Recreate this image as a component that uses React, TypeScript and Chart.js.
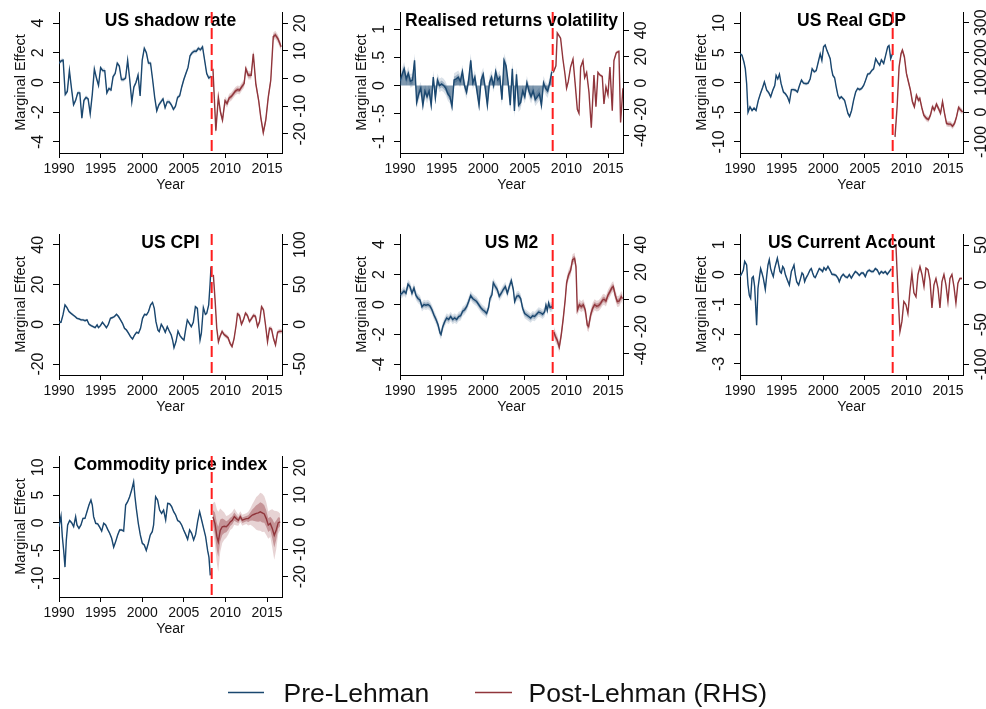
import React, { useEffect, useRef } from "react";
import { Chart, registerables } from "chart.js";

Chart.register(...registerables);

type Pt = [number, number];

const FONT = '"Liberation Sans", Arial, Helvetica, sans-serif';
const BLUE = "rgb(26,71,111)";
const RED = "rgb(144,53,59)";
const blueA = (a: number) => `rgba(26,71,111,${a})`;
const redA = (a: number) => `rgba(144,53,59,${a})`;

const LEHMAN_YEAR = 2008.35;
const X_RANGE: [number, number] = [1990, 2016.8];
const YEAR_TICKS = [1990, 1995, 2000, 2005, 2010, 2015];
const LEGEND_LABELS = ["Pre-Lehman", "Post-Lehman (RHS)"];
const AXIS_TITLE_Y = "Marginal Effect";
const AXIS_TITLE_X = "Year";

// ---------- US shadow rate ----------
const shadowPre: Pt[] = [[1990,1.3],[1990.25,1.45],[1990.5,1.5],[1990.75,-0.8],[1991,-0.6],[1991.25,0.8],[1991.5,-0.4],[1991.75,-1.5],[1992,-1.2],[1992.25,-0.7],[1992.5,-0.7],[1992.75,-2.4],[1993,-1.2],[1993.25,-1.0],[1993.5,-1.1],[1993.75,-2.1],[1994,-0.8],[1994.25,0.9],[1994.5,0.3],[1994.75,-0.2],[1995,1.0],[1995.25,0.8],[1995.5,0.8],[1995.75,-0.7],[1996,-0.4],[1996.25,-0.5],[1996.5,0.4],[1996.75,0.6],[1997,1.3],[1997.25,1.1],[1997.5,0.2],[1997.75,0.2],[1998,0.3],[1998.25,1.5],[1998.5,0.2],[1998.75,-1.3],[1999,-0.3],[1999.25,0.0],[1999.5,0.5],[1999.75,-0.9],[2000,1.5],[2000.25,2.3],[2000.5,2.0],[2000.75,1.3],[2001,1.3],[2001.25,0.2],[2001.5,-1.0],[2001.75,-1.9],[2002,-1.5],[2002.25,-1.3],[2002.5,-1.1],[2002.75,-1.7],[2003,-1.3],[2003.25,-1.3],[2003.5,-1.5],[2003.75,-1.8],[2004,-1.6],[2004.25,-1.0],[2004.5,-0.9],[2004.75,-0.3],[2005,0.2],[2005.25,0.6],[2005.5,1.0],[2005.75,1.8],[2006,2.0],[2006.25,2.1],[2006.5,2.1],[2006.75,2.3],[2007,2.2],[2007.25,2.4],[2007.5,1.5],[2007.75,0.6],[2008,0.3],[2008.25,0.4]];
const shadowPost: Pt[] = [[2008.5,3.6],[2008.85,-18.8],[2009.15,-6.7],[2009.4,-12],[2009.65,-15],[2009.95,-8],[2010.2,-9],[2010.45,-7],[2010.7,-6.5],[2010.95,-5.5],[2011.2,-4.5],[2011.45,-4],[2011.7,-4.2],[2011.95,-3],[2012.25,-1.8],[2012.45,3.6],[2012.75,1.2],[2013.1,1.2],[2013.35,9],[2013.65,-1.8],[2014,-8],[2014.25,-14],[2014.55,-19.5],[2014.85,-15],[2015.15,-6.7],[2015.45,-0.6],[2015.75,15.2],[2016,15.8],[2016.3,14.5],[2016.7,11.5]];
const shadowLeftTicks = [-4, -2, 0, 2, 4];
const shadowRightTicks = [-20, -10, 0, 10, 20];

// ---------- Realised returns volatility ----------
const volPre: Pt[] = [[1990,0.08],[1990.25,0.2],[1990.5,0.3],[1990.75,0.12],[1991,0.22],[1991.25,0.08],[1991.5,0.1],[1991.75,0.45],[1992,-0.3],[1992.25,-0.15],[1992.5,-0.05],[1992.75,-0.35],[1993,-0.1],[1993.25,-0.2],[1993.5,-0.1],[1993.75,-0.35],[1994,0.15],[1994.25,-0.22],[1994.5,0.1],[1994.75,0],[1995,0.03],[1995.25,0],[1995.5,-0.05],[1995.75,-0.15],[1996,-0.2],[1996.25,-0.37],[1996.5,0.1],[1996.75,0.12],[1997,0.15],[1997.25,0.08],[1997.5,0.25],[1997.75,0],[1998,-0.12],[1998.25,0.1],[1998.5,0.45],[1998.75,0.05],[1999,0.15],[1999.25,-0.1],[1999.5,-0.35],[1999.75,0.1],[2000,0.2],[2000.25,-0.05],[2000.5,-0.35],[2000.75,0.05],[2001,0.15],[2001.25,0],[2001.5,0.25],[2001.75,0.1],[2002,0.15],[2002.25,-0.25],[2002.5,0.45],[2002.75,0.35],[2003,0.05],[2003.25,-0.35],[2003.5,0.3],[2003.75,-0.45],[2004,0.2],[2004.25,-0.35],[2004.5,-0.3],[2004.75,-0.1],[2005,-0.2],[2005.25,0.05],[2005.5,-0.1],[2005.75,-0.2],[2006,-0.1],[2006.25,-0.25],[2006.5,-0.2],[2006.75,-0.15],[2007,-0.35],[2007.25,0.05],[2007.5,-0.05],[2007.75,-0.1],[2008,0.05],[2008.25,0.25]];
const volPost: Pt[] = [[2008.42,8],[2008.74,13],[2008.9,38],[2009.3,34],[2009.58,18],[2009.82,7],[2010.02,-4],[2010.22,1],[2010.5,12],[2010.79,18],[2011.07,-2],[2011.31,-20],[2011.51,-23],[2011.71,12],[2011.99,17],[2012.19,4],[2012.43,8],[2012.71,-7],[2012.99,-34],[2013.31,6],[2013.55,-18],[2013.79,8],[2014.03,6],[2014.31,5],[2014.51,-16],[2014.75,-3],[2014.99,-9],[2015.23,12],[2015.51,-21],[2015.71,17],[2015.99,23],[2016.31,24],[2016.51,-30],[2016.79,-4]];
const volLeftTicks = [-1, -0.5, 0, 0.5, 1];
const volRightTicks = [-40, -20, 0, 20, 40];

// ---------- US Real GDP ----------
const gdpPre: Pt[] = [[1990,4.8],[1990.24,4.6],[1990.48,3.4],[1990.64,2.3],[1990.8,-0.2],[1990.96,-5.0],[1991.2,-4.1],[1991.45,-4.7],[1991.69,-4.3],[1991.93,-4.7],[1992.2,-3.0],[1992.45,-1.9],[1992.73,-0.8],[1992.93,0.1],[1993.21,-1.3],[1993.45,-1.7],[1993.69,-2.4],[1993.94,-1.3],[1994.18,-0.5],[1994.34,1.2],[1994.54,0.6],[1994.74,1.4],[1994.94,-0.2],[1995.22,-1.6],[1995.46,-1.9],[1995.7,-2.4],[1995.94,-3.3],[1996.18,-1.2],[1996.43,-1.2],[1996.67,-1.3],[1996.91,-1.6],[1997.15,-0.5],[1997.39,0.4],[1997.63,-0.1],[1997.95,-0.2],[1998.19,-0.1],[1998.43,0.6],[1998.67,2.3],[1998.92,1.8],[1999.16,2.0],[1999.4,3.4],[1999.64,4.8],[1999.84,3.7],[2000.04,6.0],[2000.24,6.3],[2000.44,5.4],[2000.68,4.6],[2000.84,4.0],[2001.0,2.3],[2001.16,1.2],[2001.37,0.8],[2001.57,-0.8],[2001.77,-2.2],[2001.97,-2.7],[2002.17,-2.4],[2002.37,-2.7],[2002.57,-3.0],[2002.77,-4.1],[2002.97,-5.2],[2003.17,-5.7],[2003.41,-4.7],[2003.65,-3.0],[2003.9,-1.6],[2004.14,-1.0],[2004.38,-1.2],[2004.62,-1.0],[2004.86,-0.5],[2005.1,0.4],[2005.34,1.4],[2005.58,1.5],[2005.82,2.0],[2006.06,2.3],[2006.31,4.0],[2006.55,3.4],[2006.79,2.9],[2006.99,3.8],[2007.27,3.2],[2007.51,4.6],[2007.75,6.0],[2007.91,6.2],[2008.11,4.0],[2008.31,4.8]];
const gdpPost: Pt[] = [[2008.63,-83],[2008.88,18],[2009.12,152],[2009.36,197],[2009.52,208],[2009.76,185],[2010.0,130],[2010.24,102],[2010.48,74],[2010.72,35],[2010.96,18],[2011.2,57],[2011.45,40],[2011.61,46],[2011.85,15],[2012.09,-10],[2012.41,-21],[2012.65,-25],[2012.89,-10],[2013.13,18],[2013.37,7],[2013.61,27],[2013.86,12],[2014.1,-4],[2014.34,35],[2014.58,-4],[2014.82,-38],[2015.06,-40],[2015.3,-40],[2015.54,-47],[2015.78,-38],[2016.02,-16],[2016.27,16],[2016.51,7],[2016.75,1]];
const gdpLeftTicks = [-10, -5, 0, 5, 10];
const gdpRightTicks = [-100, 0, 100, 200, 300];

// ---------- US CPI ----------
const cpiPre: Pt[] = [[1990,1.0],[1990.24,1.0],[1990.48,4.7],[1990.72,9.7],[1990.96,8.4],[1991.2,6.4],[1991.45,5.5],[1991.69,4.7],[1991.93,3.9],[1992.17,3.0],[1992.41,2.7],[1992.65,2.2],[1992.89,2.2],[1993.13,1.8],[1993.37,2.2],[1993.61,0],[1993.86,-0.7],[1994.1,-1.2],[1994.34,-1.7],[1994.58,-0.3],[1994.74,-1.7],[1994.98,-0.7],[1995.22,1.0],[1995.46,-0.3],[1995.7,-1.7],[1995.94,0],[1996.18,3.0],[1996.43,3.4],[1996.67,3.9],[1996.91,5.0],[1997.15,3.9],[1997.39,2.2],[1997.63,0.5],[1997.87,-2.0],[1998.11,-2.9],[1998.35,-4.5],[1998.59,-6.2],[1998.84,-7.4],[1999.08,-5.4],[1999.32,-4.0],[1999.56,-4.4],[1999.8,-2.0],[2000.04,3.0],[2000.28,5.0],[2000.52,4.7],[2000.76,6.4],[2001.0,9.7],[2001.24,11],[2001.45,8],[2001.65,1.3],[2001.89,-2.9],[2002.05,-3.7],[2002.29,0],[2002.53,-1.7],[2002.77,-4],[2003.01,-1.2],[2003.25,-3.4],[2003.49,-5.4],[2003.65,-7.9],[2003.82,-11.8],[2004.06,-8.7],[2004.3,-3.4],[2004.54,-5.7],[2004.78,-7.0],[2005.02,-7.9],[2005.18,-3.7],[2005.42,2.2],[2005.66,0.5],[2005.9,-1.2],[2006.14,1.0],[2006.39,8.9],[2006.63,8.0],[2006.79,-0.3],[2006.95,-7.9],[2007.11,-4.5],[2007.35,8.4],[2007.59,5.0],[2007.75,5.5],[2007.99,9.7],[2008.15,19.8],[2008.27,29]];
const cpiPost: Pt[] = [[2008.55,62],[2008.76,30],[2008.96,-5],[2009.16,-22],[2009.36,-15],[2009.6,-9],[2009.84,-13],[2010.08,-15],[2010.32,-17],[2010.56,-24],[2010.8,-28],[2011.04,-18],[2011.29,-1],[2011.45,13],[2011.69,11],[2011.93,0],[2012.17,5.5],[2012.41,14],[2012.65,11],[2012.89,3.4],[2013.13,7],[2013.37,11],[2013.61,10],[2013.86,-3],[2014.1,3],[2014.34,22],[2014.58,18],[2014.82,-1],[2015.06,-22],[2015.3,-5],[2015.54,-6],[2015.78,-18],[2016.02,-26],[2016.27,-10],[2016.51,-9],[2016.79,-9]];
const cpiLeftTicks = [-20, 0, 20, 40];
const cpiRightTicks = [-50, 0, 50, 100];

// ---------- US M2 ----------
const m2Pre: Pt[] = [[1990,0.65],[1990.24,0.75],[1990.48,0.9],[1990.72,0.75],[1990.96,1.35],[1991.2,1.2],[1991.44,0.75],[1991.68,1.1],[1991.92,0.6],[1992.16,0.4],[1992.4,0.3],[1992.64,-0.15],[1992.88,0],[1993.12,-0.05],[1993.36,0],[1993.6,-0.1],[1993.84,-0.35],[1994.08,-0.7],[1994.33,-1.0],[1994.57,-1.35],[1994.81,-1.9],[1994.93,-2.0],[1995.13,-1.5],[1995.37,-1.15],[1995.61,-0.9],[1995.85,-1.0],[1996.09,-0.8],[1996.33,-1.0],[1996.57,-0.9],[1996.81,-1.0],[1997.05,-0.8],[1997.29,-0.75],[1997.53,-0.45],[1997.77,-0.35],[1998.01,-0.15],[1998.25,0.2],[1998.49,0.6],[1998.73,0.4],[1998.97,0.3],[1999.21,0.2],[1999.45,0],[1999.69,-0.2],[1999.93,-0.35],[2000.17,-0.45],[2000.41,-0.6],[2000.65,-0.2],[2000.81,0.4],[2001.05,0.65],[2001.21,1.45],[2001.45,1.2],[2001.69,1.0],[2001.93,0.55],[2002.17,0.75],[2002.41,1.0],[2002.66,1.2],[2002.9,0.75],[2003.14,1.2],[2003.38,1.6],[2003.62,1.0],[2003.78,0.2],[2004.02,0.55],[2004.26,0.6],[2004.5,0.4],[2004.74,-0.25],[2004.98,-0.6],[2005.22,-0.7],[2005.46,-0.8],[2005.7,-0.9],[2005.94,-0.75],[2006.18,-0.8],[2006.42,-0.65],[2006.66,-0.5],[2006.9,-0.55],[2007.14,-0.65],[2007.38,-0.5],[2007.54,-0.05],[2007.7,-0.4],[2007.86,0.1],[2008.02,-0.2],[2008.22,-0.15],[2008.34,-0.2]];
const m2Post: Pt[] = [[2008.5,-24],[2008.66,-27],[2008.9,-30],[2009.14,-35],[2009.38,-26],[2009.62,-14],[2009.86,0],[2010.02,12],[2010.26,18],[2010.5,21],[2010.74,29],[2010.98,30],[2011.15,24],[2011.31,-8],[2011.55,-4],[2011.79,-5.4],[2012.03,-4],[2012.27,-8],[2012.51,-19],[2012.67,-20],[2012.91,-11.5],[2013.15,-6.6],[2013.39,-4],[2013.63,-5],[2013.87,-4.6],[2014.11,-3],[2014.35,-0.5],[2014.51,0],[2014.75,-1.2],[2014.99,3],[2015.23,5.6],[2015.47,8.5],[2015.63,9.3],[2015.87,3],[2016.11,-1.7],[2016.35,-1.2],[2016.59,2],[2016.75,0.5]];
const m2LeftTicks = [-4, -2, 0, 2, 4];
const m2RightTicks = [-40, -20, 0, 20, 40];

// ---------- US Current Account ----------
const caPre: Pt[] = [[1990,-0.07],[1990.24,0.05],[1990.4,0.15],[1990.56,0.44],[1990.8,0.32],[1990.96,-0.35],[1991.12,-0.7],[1991.28,-0.8],[1991.44,-0.12],[1991.6,-0.07],[1991.76,-0.4],[1992,-1.7],[1992.16,-0.46],[1992.32,-0.12],[1992.48,0.2],[1992.64,0.05],[1992.8,-0.12],[1993.04,-0.5],[1993.2,-0.07],[1993.36,0.32],[1993.52,0.5],[1993.68,0.2],[1993.84,0.05],[1994,-0.07],[1994.16,0.2],[1994.33,0.38],[1994.49,0.55],[1994.65,0.32],[1994.81,0.1],[1994.97,0.05],[1995.13,0.27],[1995.29,0.2],[1995.45,0],[1995.69,-0.18],[1995.93,-0.35],[1996.17,0.1],[1996.33,0.2],[1996.49,0.32],[1996.65,0],[1996.81,-0.24],[1997.05,-0.35],[1997.29,-0.12],[1997.45,0.05],[1997.61,0],[1997.77,-0.24],[1997.93,-0.12],[1998.17,0],[1998.41,0.15],[1998.57,0.2],[1998.73,0.05],[1998.89,-0.07],[1999.05,-0.1],[1999.29,0.05],[1999.53,0.2],[1999.77,0.15],[1999.93,0.1],[2000.09,0.23],[2000.33,0.15],[2000.57,0.27],[2000.81,0.15],[2001.05,0.01],[2001.29,0],[2001.53,-0.03],[2001.77,-0.12],[2001.93,-0.24],[2002.17,-0.07],[2002.41,0.01],[2002.65,-0.07],[2002.9,-0.1],[2003.14,0],[2003.38,-0.12],[2003.62,0],[2003.86,0.1],[2004.1,0.05],[2004.34,-0.03],[2004.58,0.05],[2004.82,0.05],[2005.06,-0.07],[2005.3,0.1],[2005.54,0.15],[2005.78,0.1],[2006.02,0.1],[2006.26,0.2],[2006.5,0.15],[2006.74,0.01],[2006.98,0.1],[2007.22,0.05],[2007.46,0.1],[2007.7,0.01],[2007.94,0.1],[2008.18,0.19]];
const caPost: Pt[] = [[2008.5,48],[2008.74,50],[2008.98,-8],[2009.22,-59],[2009.46,-46],[2009.69,-21],[2009.94,-25],[2010.18,-36],[2010.42,-8],[2010.66,15],[2010.9,-10],[2011.15,-15],[2011.39,13],[2011.63,23],[2011.87,13],[2012.11,-2],[2012.35,21],[2012.59,19],[2012.83,6],[2013.07,-29],[2013.31,0],[2013.55,8],[2013.79,-4],[2014.03,-29],[2014.27,4],[2014.51,13],[2014.75,0],[2014.99,-21],[2015.23,8],[2015.47,13],[2015.71,-2],[2015.95,-23],[2016.19,2],[2016.43,8],[2016.67,8]];
const caLeftTicks = [-3, -2, -1, 0, 1];
const caRightTicks = [-100, -50, 0, 50];

// ---------- Commodity price index ----------
const comPre: Pt[] = [[1990,-0.7],[1990.24,1.2],[1990.4,-2.5],[1990.56,-5],[1990.72,-8],[1990.88,-3.1],[1991.04,-0.4],[1991.28,0.4],[1991.52,0],[1991.76,-0.7],[1992,1.1],[1992.16,-0.4],[1992.4,-1.0],[1992.64,-0.4],[1992.88,0.8],[1993.12,0.8],[1993.36,2.0],[1993.6,3.2],[1993.84,4.1],[1994,3.2],[1994.16,1.1],[1994.41,-0.1],[1994.65,-0.2],[1994.89,-0.8],[1995.13,-1.5],[1995.37,-0.1],[1995.61,-0.4],[1995.85,-1.2],[1996.09,-1.9],[1996.33,-2.8],[1996.57,-4.4],[1996.81,-3.4],[1997.05,-2.2],[1997.29,-1.3],[1997.53,-1.3],[1997.77,-1.5],[1998.01,3.2],[1998.25,3.8],[1998.49,4.7],[1998.73,5.9],[1998.97,7.4],[1999.13,4.7],[1999.29,2.6],[1999.53,-0.1],[1999.77,-2.2],[2000.01,-3.7],[2000.25,-4.0],[2000.49,-5.0],[2000.73,-3.7],[2000.97,-2.2],[2001.21,-1.6],[2001.37,-0.4],[2001.61,4.7],[2001.85,4.1],[2002.09,2.3],[2002.33,1.7],[2002.57,2.3],[2002.82,0.5],[2003.06,3.5],[2003.3,3.4],[2003.54,2.9],[2003.78,2.0],[2004.02,1.4],[2004.26,0.4],[2004.5,0.2],[2004.74,-0.4],[2004.98,-1.3],[2005.22,-2.1],[2005.46,-3.0],[2005.7,-1.3],[2005.94,-1.9],[2006.18,-3.1],[2006.42,-2.1],[2006.66,0.2],[2006.9,2.0],[2007.14,0.5],[2007.38,-1.0],[2007.62,-2.5],[2007.86,-5.0],[2008.02,-6.2],[2008.18,-9.5]];
const comPost: Pt[] = [[2008.5,2],[2008.74,-0.5],[2008.98,-5.4],[2009.14,-7.2],[2009.38,-3],[2009.62,-1.7],[2009.86,-1.5],[2010.1,-1.7],[2010.34,-1],[2010.58,0.1],[2010.82,0.7],[2011.07,2],[2011.31,1.3],[2011.55,0.7],[2011.79,2],[2012.03,0.7],[2012.27,1],[2012.51,1.3],[2012.75,1.3],[2012.99,2],[2013.23,2.6],[2013.47,2.9],[2013.71,3.2],[2013.95,3.4],[2014.19,3.8],[2014.43,3.4],[2014.67,3],[2014.91,1.3],[2015.15,-1.1],[2015.39,-0.5],[2015.63,-2.3],[2015.87,-4.8],[2016.11,-2.9],[2016.35,-0.2],[2016.59,0.1]];
const comPostBand = [5,8,10,11,8,6,5,4,3.5,3,3,3,2.5,2,2,2,2,2,2.5,3,4,5,6,6.5,7,7,6.5,6,5,5,7,9,7,4,3];
const comLeftTicks = [-10, -5, 0, 5, 10];
const comRightTicks = [-20, -10, 0, 10, 20];

// ---------- layout ----------
const COL_LEFT = [59, 400, 740];
const ROW_TOP = [12, 234, 456];
const PLOT_W = 223;
const PLOT_H = 141;
const PAD_L = 60;
const PAD_R = 50;
const PAD_T = 12;
const PAD_B = 48;

interface PanelCfg {
  title: string;
  pre: Pt[];
  post: Pt[];
  lTicks: number[];
  lRange: [number, number];
  rTicks: number[];
  rRange: [number, number];
  preBand: number;
  postBand: number | number[];
  preFillZero?: boolean;
  col: number;
  row: number;
}

const PANELS: PanelCfg[] = [
  { title: "US shadow rate", pre: shadowPre, post: shadowPost, lTicks: shadowLeftTicks, lRange: [-4.74, 4.74], rTicks: shadowRightTicks, rRange: [-26.9, 24.1], preBand: 0.15, postBand: 1.5, col: 0, row: 0 },
  { title: "Realised returns volatility", pre: volPre, post: volPost, lTicks: volLeftTicks, lRange: [-1.2, 1.31], rTicks: volRightTicks, rRange: [-53.2, 53.9], preBand: 0.12, postBand: 1.2, preFillZero: true, col: 1, row: 0 },
  { title: "US Real GDP", pre: gdpPre, post: gdpPost, lTicks: gdpLeftTicks, lRange: [-11.85, 11.85], rTicks: gdpRightTicks, rRange: [-137, 336], preBand: 0.3, postBand: 10, col: 2, row: 0 },
  { title: "US CPI", pre: cpiPre, post: cpiPost, lTicks: cpiLeftTicks, lRange: [-25.5, 45.4], rTicks: cpiRightTicks, rRange: [-63.8, 113.4], preBand: 0.7, postBand: 3, col: 0, row: 1 },
  { title: "US M2", pre: m2Pre, post: m2Post, lTicks: m2LeftTicks, lRange: [-4.7, 4.7], rTicks: m2RightTicks, rRange: [-55.4, 47.8], preBand: 0.32, postBand: 4, col: 1, row: 1 },
  { title: "US Current Account", pre: caPre, post: caPost, lTicks: caLeftTicks, lRange: [-3.37, 1.36], rTicks: caRightTicks, rRange: [-113.4, 63.9], preBand: 0.06, postBand: 1.5, col: 2, row: 1 },
  { title: "Commodity price index", pre: comPre, post: comPost, lTicks: comLeftTicks, lRange: [-13.4, 12.05], rTicks: comRightTicks, rRange: [-27.5, 24.3], preBand: 0.25, postBand: comPostBand, col: 0, row: 2 },
];

const fmt = (v: number) => (v === 0 ? "0" : String(v).replace(/^(-?)0\./, "$1."));

function bandDatasets(pts: Pt[], w: number | number[], scale: number, color: string, axis: string, order: number) {
  const hw = (i: number) => (Array.isArray(w) ? w[i] : w) * scale;
  const common = { yAxisID: axis, pointRadius: 0, borderWidth: 0, borderColor: "transparent", tension: 0, order };
  return [
    { ...common, data: pts.map((p, i) => ({ x: p[0], y: p[1] + hw(i) })), fill: "+1", backgroundColor: color },
    { ...common, data: pts.map((p, i) => ({ x: p[0], y: p[1] - hw(i) })), fill: false, backgroundColor: color },
  ];
}

function Panel({ cfg }: { cfg: PanelCfg }) {
  const ref = useRef<HTMLCanvasElement>(null);
  const left = COL_LEFT[cfg.col] - PAD_L;
  const top = ROW_TOP[cfg.row] - PAD_T;
  const w = PLOT_W + PAD_L + PAD_R;
  const h = PLOT_H + PAD_T + PAD_B;

  useEffect(() => {
    const canvas = ref.current!;
    const lineBase = { pointRadius: 0, borderWidth: 1.4, tension: 0, order: 0 };
    const datasets: any[] = [
      {
        ...lineBase,
        data: cfg.pre.map((p) => ({ x: p[0], y: p[1] })),
        yAxisID: "y",
        borderColor: BLUE,
        fill: cfg.preFillZero ? "origin" : false,
        backgroundColor: cfg.preFillZero ? blueA(0.55) : BLUE,
      },
      {
        ...lineBase,
        data: cfg.post.map((p) => ({ x: p[0], y: p[1] })),
        yAxisID: "y1",
        borderColor: RED,
        fill: false,
        backgroundColor: RED,
      },
      ...bandDatasets(cfg.pre, cfg.preBand, 1, blueA(0.16), "y", 3),
      ...bandDatasets(cfg.pre, cfg.preBand, 0.5, blueA(0.3), "y", 2),
      ...bandDatasets(cfg.post, cfg.postBand, 1, redA(0.22), "y1", 3),
      ...bandDatasets(cfg.post, cfg.postBand, 0.5, redA(0.4), "y1", 2),
    ];

    const grid = (tl: number) => ({
      display: true,
      drawOnChartArea: false,
      drawTicks: true,
      tickLength: tl,
      color: "#000",
      lineWidth: 1,
    });
    const border = { display: true, color: "#000", width: 1 };

    const decor = {
      id: "decor",
      afterDatasetsDraw(chart: any) {
        const { ctx, chartArea: a, scales } = chart;
        ctx.save();
        ctx.font = `bold 17.5px ${FONT}`;
        ctx.fillStyle = "#000";
        ctx.textAlign = "center";
        ctx.textBaseline = "middle";
        ctx.fillText(cfg.title, (a.left + a.right) / 2, a.top + 9.5);
        const x = scales.x.getPixelForValue(LEHMAN_YEAR);
        ctx.strokeStyle = "#ff1e1e";
        ctx.lineWidth = 2;
        ctx.setLineDash([11, 5]);
        ctx.beginPath();
        ctx.moveTo(x, a.top);
        ctx.lineTo(x, a.bottom);
        ctx.stroke();
        ctx.restore();
      },
      afterDraw(chart: any) {
        const { ctx, chartArea: a, scales } = chart;
        ctx.save();
        ctx.fillStyle = "#111";
        ctx.font = `14px ${FONT}`;
        ctx.textAlign = "center";
        ctx.textBaseline = "middle";
        YEAR_TICKS.forEach((v) => ctx.fillText(String(v), scales.x.getPixelForValue(v), a.bottom + 16.5));
        ctx.fillText(AXIS_TITLE_X, (a.left + a.right) / 2, a.bottom + 32.5);
        const rot = (t: string, x: number, y: number) => {
          ctx.save();
          ctx.translate(x, y);
          ctx.rotate(-Math.PI / 2);
          ctx.fillText(t, 0, 0);
          ctx.restore();
        };
        ctx.font = `16px ${FONT}`;
        cfg.lTicks.forEach((v) => rot(fmt(v), a.left - 20.5, scales.y.getPixelForValue(v)));
        cfg.rTicks.forEach((v) => rot(fmt(v), a.right + 18.5, scales.y1.getPixelForValue(v)));
        ctx.font = `14.5px ${FONT}`;
        rot(AXIS_TITLE_Y, a.left - 38.5, (a.top + a.bottom) / 2);
        ctx.restore();
      },
    };

    const chart = new Chart(canvas, {
      type: "line",
      data: { datasets },
      options: {
        animation: false,
        responsive: false,
        maintainAspectRatio: false,
        devicePixelRatio: 1,
        layout: { padding: { top: PAD_T, left: 0, right: 0, bottom: 0 }, autoPadding: false },
        plugins: { legend: { display: false }, tooltip: { enabled: false }, title: { display: false } },
        events: [],
        scales: {
          x: {
            type: "linear",
            min: X_RANGE[0],
            max: X_RANGE[1],
            ticks: { display: false },
            grid: grid(5),
            border,
            afterBuildTicks: (s: any) => { s.ticks = YEAR_TICKS.map((v) => ({ value: v })); },
            afterFit: (s: any) => { s.height = PAD_B; },
          },
          y: {
            type: "linear",
            position: "left",
            min: cfg.lRange[0],
            max: cfg.lRange[1],
            ticks: { display: false },
            grid: grid(6),
            border,
            afterBuildTicks: (s: any) => { s.ticks = cfg.lTicks.map((v) => ({ value: v })); },
            afterFit: (s: any) => { s.width = PAD_L; },
          },
          y1: {
            type: "linear",
            position: "right",
            min: cfg.rRange[0],
            max: cfg.rRange[1],
            ticks: { display: false },
            grid: grid(6),
            border,
            afterBuildTicks: (s: any) => { s.ticks = cfg.rTicks.map((v) => ({ value: v })); },
            afterFit: (s: any) => { s.width = PAD_R; },
          },
        },
      } as any,
      plugins: [decor],
    });
    return () => chart.destroy();
  }, []);

  return (
    <canvas
      ref={ref}
      width={w}
      height={h}
      style={{ position: "absolute", left, top, width: w, height: h }}
    />
  );
}

function Legend() {
  const ref = useRef<HTMLCanvasElement>(null);
  useEffect(() => {
    const c = ref.current!;
    const ctx = c.getContext("2d")!;
    ctx.clearRect(0, 0, c.width, c.height);
    ctx.lineWidth = 1.4;
    ctx.strokeStyle = BLUE;
    ctx.beginPath();
    ctx.moveTo(228, 42.5);
    ctx.lineTo(264, 42.5);
    ctx.stroke();
    ctx.strokeStyle = RED;
    ctx.beginPath();
    ctx.moveTo(475, 42.5);
    ctx.lineTo(512, 42.5);
    ctx.stroke();
    ctx.fillStyle = "#111";
    ctx.font = `26.5px ${FONT}`;
    ctx.textBaseline = "alphabetic";
    ctx.textAlign = "left";
    ctx.fillText(LEGEND_LABELS[0], 283.5, 52);
    ctx.fillText(LEGEND_LABELS[1], 528.5, 52);
  }, []);
  return <canvas ref={ref} width={986} height={59} style={{ position: "absolute", left: 0, top: 650, width: 986, height: 59 }} />;
}

export default function App() {
  return (
    <div style={{ position: "absolute", left: 0, top: 0, width: 986, height: 709, overflow: "hidden", background: "#fff" }}>
      {PANELS.map((p, i) => (
        <Panel key={i} cfg={p} />
      ))}
      <Legend />
    </div>
  );
}
